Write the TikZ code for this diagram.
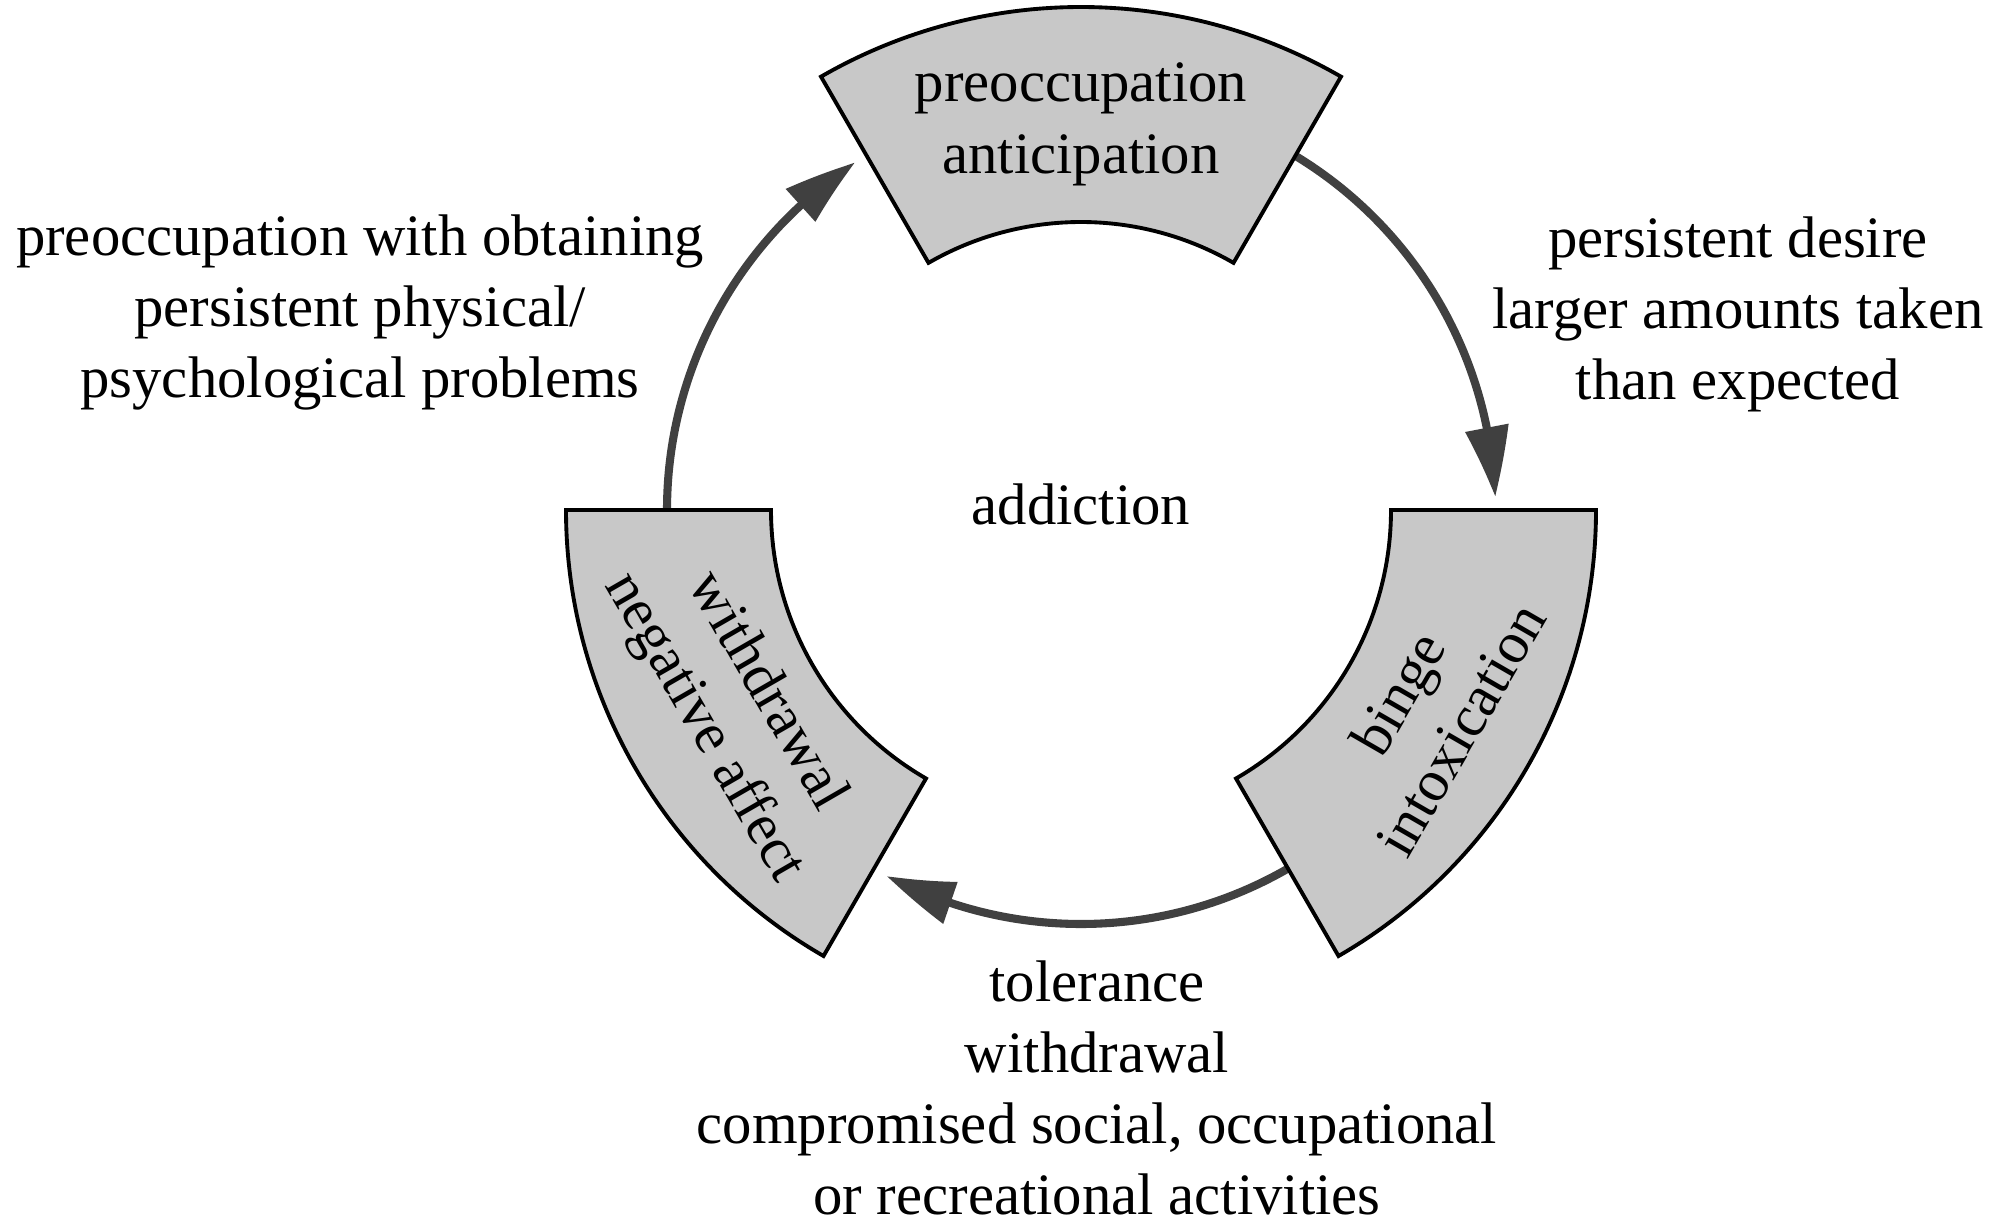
\documentclass[tikz,border=0pt]{standalone}
\usepackage{fontspec}
\setmainfont{Liberation Serif}
\usetikzlibrary{arrows.meta,bending,calc}
\definecolor{stagegray}{RGB}{200,200,200}
\definecolor{cyclegray}{RGB}{64,64,64}
\begin{document}
\begin{tikzpicture}[
    stage/.style={draw=black,line width=1.1pt,fill=stagegray},
    stagetext/.style={align=center,font=\fontsize{16.7}{20.5}\selectfont},
    cyclearrow/.style={draw=cyclegray,line width=2.3pt,-{Triangle[length=0.7cm,width=0.42cm,bend]}},
    note/.style={align=center,font=\fontsize{16.7}{20.2}\selectfont}
  ]
  \useasboundingbox (0,0) rectangle (19.95,12.17);
  \coordinate (O) at (10.81,7.07);
  \coordinate (Ot) at (10.81,6.90);
  \coordinate (c1) at ($(O)+(180:4.14)$);
  \coordinate (c2) at ($(O)+(60:4.14)$);
  \coordinate (c3) at ($(O)+(-60:4.14)$);
  \begin{scope}[cyclearrow]
    \draw (c1) arc[start angle=180,end angle=123,radius=4.14];
    \draw (c2) arc[start angle=60,end angle=1.8,radius=4.14];
    \draw (c3) arc[start angle=-60,end angle=-118,radius=4.14];
  \end{scope}
  \draw[stage] ($(Ot)+(60:3.05)$) arc[start angle=60,end angle=120,radius=3.05]
    -- ($(Ot)+(120:5.2)$) arc[start angle=120,end angle=60,radius=5.2] -- cycle;
  \draw[stage] ($(O)+(0:3.1)$) arc[start angle=0,end angle=-60,radius=3.1]
    -- ($(O)+(-60:5.15)$) arc[start angle=-60,end angle=0,radius=5.15] -- cycle;
  \draw[stage] ($(O)+(180:3.1)$) arc[start angle=180,end angle=240,radius=3.1]
    -- ($(O)+(240:5.15)$) arc[start angle=240,end angle=180,radius=5.15] -- cycle;
  \node[stagetext] (pre) at ($(Ot)+(90:4.03)$) {preoccupation\\anticipation};
  \node[stagetext,rotate=60] (binge) at ($(O)+(-30:4.02)$) {binge\\intoxication};
  \node[stagetext,rotate=-60] (wd) at ($(O)+(210:4.0)$) {withdrawal\\negative affect};
  \node[note] (add) at ($(O)+(0,0.06)$) {addiction};
  \node[note] (left) at (3.60,9.05) {preoccupation with obtaining\\persistent physical/\\psychological problems};
  \node[note] (right) at (17.38,9.03) {persistent desire\\larger amounts taken\\than expected};
  \node[note] (bottom) at (10.97,1.29) {tolerance\\withdrawal\\compromised social, occupational\\or recreational activities};
\end{tikzpicture}
\end{document}
